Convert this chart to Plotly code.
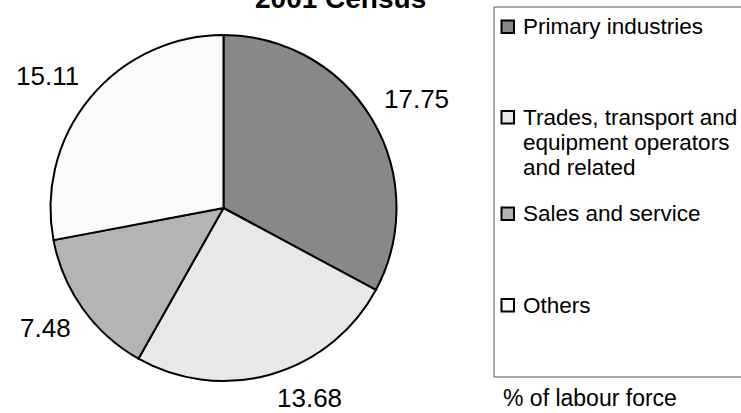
import math
import plotly.graph_objects as go

# ---- data ----
categories = ["Primary industries",
              "Trades, transport and<br>equipment operators<br>and related",
              "Sales and service",
              "Others"]
values = [17.75, 13.68, 7.48, 15.11]
colors = ["#888888", "#e8e8e8", "#b4b4b4", "#fafafa"]
title_text = "2001 Census"
footnote = "% of labour force"

W, H = 741, 413
FONT = "Liberation Sans, Arial, sans-serif"

def px(x):
    return x / W

def py(y):
    return 1 - y / H

# pie domain in pixels
pl, pr, pt, pb = 50, 397, 35, 381
cx, cy = (pl + pr) / 2, (pt + pb) / 2
R = min(pr - pl, pb - pt) / 2

fig = go.Figure(go.Pie(
    labels=[c.replace("<br>", " ") for c in categories],
    values=values,
    sort=False,
    direction="clockwise",
    rotation=0,
    marker=dict(colors=colors, line=dict(color="black", width=2)),
    textinfo="none",
    hoverinfo="label+value",
    showlegend=False,
    domain=dict(x=[px(pl), px(pr)], y=[py(pb), py(pt)]),
))

annotations = []
# value labels placed outside each slice, corner-anchored at mid-angle
total = sum(values)
cum = 0.0
gap = 12
for v in values:
    mid = (cum + v / 2) / total * 2 * math.pi
    cum += v
    dx, dy = math.sin(mid), -math.cos(mid)  # screen coords (y down)
    X = cx + (R + gap) * dx
    Y = cy + (R + gap) * dy
    annotations.append(dict(
        x=px(X), y=py(Y), xref="paper", yref="paper",
        text=f"{v:.2f}", showarrow=False,
        xanchor="left" if dx >= 0 else "right",
        yanchor="bottom" if dy < 0 else "top",
        yshift=-3 if dy < 0 else 5,
        font=dict(family=FONT, size=26, color="black"),
    ))

# title (partially cut at top like the reference)
annotations.append(dict(
    x=px(340), y=py(16), xref="paper", yref="paper",
    text=f"<b>{title_text}</b>", showarrow=False,
    xanchor="center", yanchor="bottom",
    font=dict(family=FONT, size=28, color="black"),
))

shapes = []
# legend box
shapes.append(dict(type="rect", xref="paper", yref="paper",
                   x0=px(494), x1=px(760), y0=py(377), y1=py(7),
                   line=dict(color="#555555", width=1), fillcolor="rgba(0,0,0,0)"))

item_y = [26.5, 117, 213.5, 305]
line_h = 25
for cat, col, yc in zip(categories, colors, item_y):
    shapes.append(dict(type="rect", xref="paper", yref="paper",
                       x0=px(501.5), x1=px(514), y0=py(yc + 6.5), y1=py(yc - 6),
                       line=dict(color="black", width=2), fillcolor=col))
    for i, line in enumerate(cat.split("<br>")):
        annotations.append(dict(
            x=px(521), y=py(yc + i * line_h), xref="paper", yref="paper",
            text=line, showarrow=False, xanchor="left", yanchor="middle",
            font=dict(family=FONT, size=22.5, color="black"),
        ))

annotations.append(dict(
    x=px(501), y=py(398), xref="paper", yref="paper",
    text=footnote, showarrow=False, xanchor="left", yanchor="middle",
    font=dict(family=FONT, size=23, color="black"),
))

fig.update_layout(
    width=W, height=H,
    margin=dict(l=0, r=0, t=0, b=0),
    paper_bgcolor="white", plot_bgcolor="white",
    annotations=annotations, shapes=shapes,
    showlegend=False,
)

fig.write_html(
    "out.html",
    config={"displayModeBar": False},
    post_script="document.body.style.margin='0';document.body.style.overflow='hidden';",
)
